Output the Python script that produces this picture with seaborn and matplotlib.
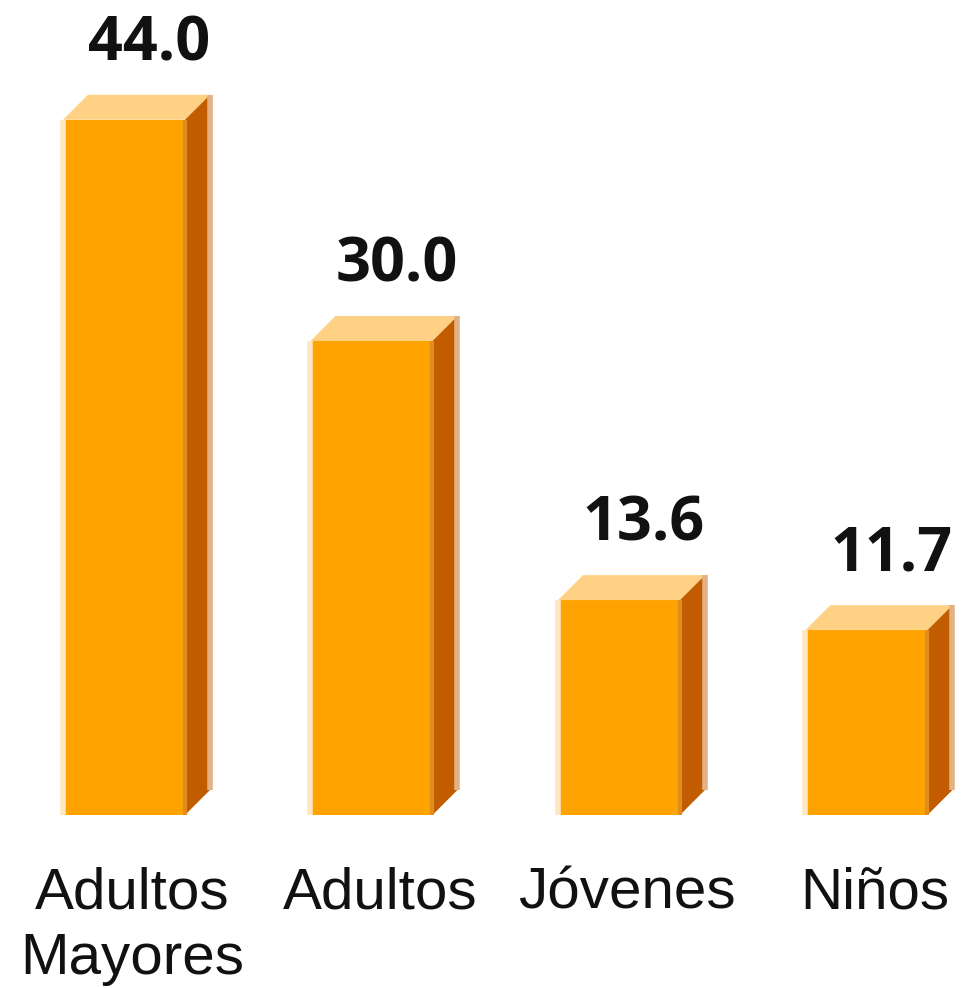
import numpy as np
import pandas as pd
import matplotlib.pyplot as plt
import seaborn as sns
from matplotlib.patches import Polygon

# datos
categorias = ['Adultos\nMayores', 'Adultos', 'Jóvenes', 'Niños']
valores = [44.0, 30.0, 13.6, 11.7]

sns.set_theme(style='white')
plt.rcParams['font.family'] = ['Liberation Sans', 'DejaVu Sans']

df = pd.DataFrame({'Grupo': categorias, 'Porcentaje': valores})

fig = plt.figure(figsize=(9.61, 9.88), dpi=100)
ax = fig.add_axes([0, 173 / 988, 1, 815 / 988])

sns.barplot(data=df, x='Grupo', y='Porcentaje', color='#FFA300',
            width=0.493, saturation=1, linewidth=0, ax=ax, zorder=2)

ax.set_xlim(-0.501, 3.382)
ax.set_ylim(0, 51.58)

# profundidad del efecto 3D (en unidades de datos)
dx = 25 / 247.5
dy = 25 / 15.8

for p in ax.patches[:len(valores)]:
    x0, w, h = p.get_x(), p.get_width(), p.get_height()
    tapa = Polygon([(x0, h), (x0 + w, h), (x0 + w + dx, h + dy), (x0 + dx, h + dy)],
                   closed=True, facecolor='#FFD184', edgecolor='none', zorder=3)
    lado = Polygon([(x0 + w, 0), (x0 + w + dx, dy), (x0 + w + dx, h + dy), (x0 + w, h)],
                   closed=True, facecolor='#C25C00', edgecolor='none', zorder=3)
    ax.add_patch(tapa)
    ax.add_patch(lado)
    # bordes claros
    ax.plot([x0, x0], [0, h], color='#FFE7C2', lw=4, solid_capstyle='butt', zorder=4)
    ax.plot([x0 + w, x0 + w], [0, h], color='#E08C1E', lw=3, solid_capstyle='butt', zorder=4)
    ax.plot([x0 + w + dx, x0 + w + dx], [dy, h + dy], color='#E2B184', lw=4,
            solid_capstyle='butt', zorder=4)

# etiquetas de valor
for i, v in enumerate(valores):
    ax.text(i + dx, v + dy + 2.2, f'{v:.1f}', ha='center', va='baseline',
            fontsize=44, fontweight='bold', color='#111111',
            family=['Open Sans', 'DejaVu Sans'])

ax.set_xticks(np.arange(len(categorias)) + dx / 3, labels=categorias)
ax.tick_params(axis='x', length=0, pad=37, labelsize=42, labelcolor='#111111')
for t in ax.get_xticklabels():
    t.set_linespacing(1.28)
ax.set_yticks([])
ax.set_xlabel('')
ax.set_ylabel('')
sns.despine(ax=ax, left=True, bottom=True)

fig.savefig('out.png', dpi=100)
